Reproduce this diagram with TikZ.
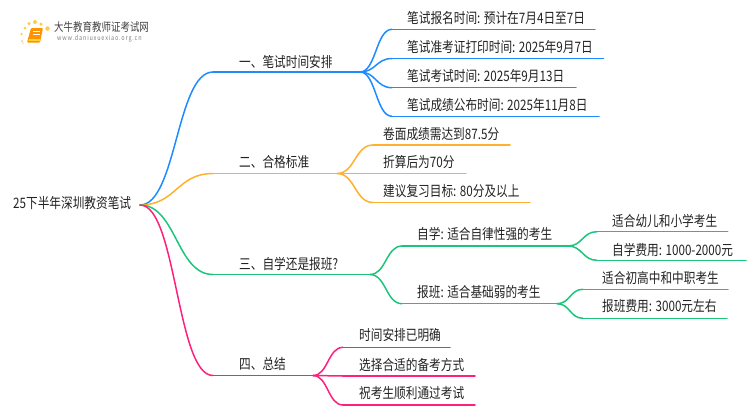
\documentclass[tikz,border=0pt]{standalone}
\usepackage{fontspec}
\setmainfont[FakeStretch=0.81]{Noto Sans CJK SC}
\usetikzlibrary{calc}
\definecolor{cblue}{HTML}{1E8CFF}
\definecolor{corange}{HTML}{FFB02E}
\definecolor{cgreen}{HTML}{1CC47C}
\definecolor{cpink}{HTML}{FF1F7D}
\definecolor{ctext}{HTML}{222222}
\tikzset{
 lab/.style={anchor=west,inner sep=0pt,text=ctext,font=\fontsize{14.4pt}{15pt}\selectfont},
 conn/.style={line width=1.5pt,line cap=round},
 dot/.style={circle,fill=#1,inner sep=0pt,minimum size=3.5pt},
}
\newcommand{\sig}[3]{% from, to, colour: horizontal S curve between named coordinates
  \draw[conn,#3] let \p1=(#1),\p2=(#2) in (#1) .. controls ({0.5*\x1+0.5*\x2},\y1) and ({0.5*\x1+0.5*\x2},\y2) .. (#2);}
\begin{document}
\begin{tikzpicture}[x=1pt,y=-1pt]
\useasboundingbox (0,0) rectangle (750,410);
% logo
\foreach \k/\a/\b/\s in {d1/22/41/2,d2/21.5/34/2.5,d3/25/28/3,d4/29/23.5/3.5,d5/35/22/4,d6/41/24/3.5,d7/47.5/28.5/4.5,d8/23/43/1.5}
  \node[dot=orange!55!yellow,minimum size=\s pt,opacity=.75] (\k) at (\a,\b) {};
\fill[rounded corners=1pt,orange!85!yellow] (31,28) -- (43,28) -- (40,42.5) -- (27,42.5) -- cycle;
\fill[orange!40!yellow!80!white] (29,39) -- (40.5,39) -- (40,40.8) -- (28.6,40.8) -- cycle;
\draw[white,line width=.6pt] (33,31.5) -- (40,31.5) (32.5,34) -- (39.5,34);
\node[anchor=west,inner sep=0pt,text=black!75,font=\fontsize{11.7pt}{12pt}\selectfont] (logo) at (54,27) {大牛教育教师证考试网};
\node[anchor=west,inner sep=0pt,text=black!50,font=\fontsize{6.8pt}{8pt}\selectfont\addfontfeature{LetterSpace=12}] (url) at (57,39) {www.daniuxuexiao.org.cn};
% root
\node[lab] (root) at (13,203) {25下半年深圳教资笔试};
\coordinate (r) at (140,205);
% branch heads and junctions
\coordinate (b1s) at (213,72);   \coordinate (b1j) at (360,72);
\coordinate (b2s) at (213,173.5);\coordinate (b2j) at (337,173.5);
\coordinate (b3s) at (213,274.5);\coordinate (b3j) at (370,274.5);
\coordinate (b4s) at (213,375.5);\coordinate (b4j) at (313,375.5);
\node[lab] (t1) at (239,61.5) {一、笔试时间安排};
\node[lab] (t2) at (239,162.5) {二、合格标准};
\node[lab] (t3) at (239,263.5) {三、自学还是报班?};
\node[lab] (t4) at (239,364.5) {四、总结};
\sig{r}{b1s}{cblue}\draw[conn,cblue] (b1s) -- (b1j);
\sig{r}{b2s}{corange}\draw[conn,corange] (b2s) -- (b2j);
\sig{r}{b3s}{cgreen}\draw[conn,cgreen] (b3s) -- (b3j);
\sig{r}{b4s}{cpink}\draw[conn,cpink] (b4s) -- (b4j);
% branch 1 leaves
\node[lab] (a1) at (407,18) {笔试报名时间: 预计在7月4日至7日};
\node[lab] (a2) at (407,47) {笔试准考证打印时间: 2025年9月7日};
\node[lab] (a3) at (407,76) {笔试考试时间: 2025年9月13日};
\node[lab] (a4) at (407,105) {笔试成绩公布时间: 2025年11月8日};
\foreach \k/\yy/\ee in {1/29.3/595,2/58.5/603.5,3/87.7/576,4/116.3/599}{
  \coordinate (as\k) at (392,\yy); \coordinate (ae\k) at (\ee,\yy);
  \sig{b1j}{as\k}{cblue}\draw[conn,cblue] (as\k) -- (ae\k);}
% branch 2 leaves
\node[lab] (c1) at (383,134) {卷面成绩需达到87.5分};
\node[lab] (c2) at (383,162.5) {折算后为70分};
\node[lab] (c3) at (383,191.5) {建议复习目标: 80分及以上};
\foreach \k/\yy/\ee in {1/145/510,2/173.5/466,3/202.5/530}{
  \coordinate (cs\k) at (373,\yy); \coordinate (ce\k) at (\ee,\yy);
  \sig{b2j}{cs\k}{corange}\draw[conn,corange] (cs\k) -- (ce\k);}
% branch 3
\node[lab] (d1t) at (417,234.5) {自学: 适合自律性强的考生};
\node[lab] (d2t) at (417,292.5) {报班: 适合基础弱的考生};
\coordinate (ds1) at (402,246); \coordinate (dj1) at (568,246);
\coordinate (ds2) at (402,303.7); \coordinate (dj2) at (557,303.7);
\sig{b3j}{ds1}{cgreen}\draw[conn,cgreen] (ds1) -- (dj1);
\sig{b3j}{ds2}{cgreen}\draw[conn,cgreen] (ds2) -- (dj2);
\node[lab] (e1) at (612,220.5) {适合幼儿和小学考生};
\node[lab] (e2) at (612,249.5) {自学费用: 1000-2000元};
\node[lab] (e3) at (602,278) {适合初高中和中职考生};
\node[lab] (e4) at (602,306.5) {报班费用: 3000元左右};
\foreach \k/\jj/\xx/\yy/\ee in {1/dj1/597/231.7/727.7,2/dj1/597/260.3/746,3/dj2/583/289.3/728,4/dj2/583/318.3/727}{
  \coordinate (es\k) at (\xx,\yy); \coordinate (ee\k) at (\ee,\yy);
  \sig{\jj}{es\k}{cgreen}\draw[conn,cgreen] (es\k) -- (ee\k);}
% branch 4 leaves
\node[lab] (f1) at (359,335.5) {时间安排已明确};
\node[lab] (f2) at (359,364.5) {选择合适的备考方式};
\node[lab] (f3) at (359,393.5) {祝考生顺利通过考试};
\foreach \k/\yy/\ee in {1/347.3/450,2/376/475,3/405/475}{
  \coordinate (fs\k) at (343,\yy); \coordinate (fe\k) at (\ee,\yy);
  \sig{b4j}{fs\k}{cpink}\draw[conn,cpink] (fs\k) -- (fe\k);}
\end{tikzpicture}
\end{document}
